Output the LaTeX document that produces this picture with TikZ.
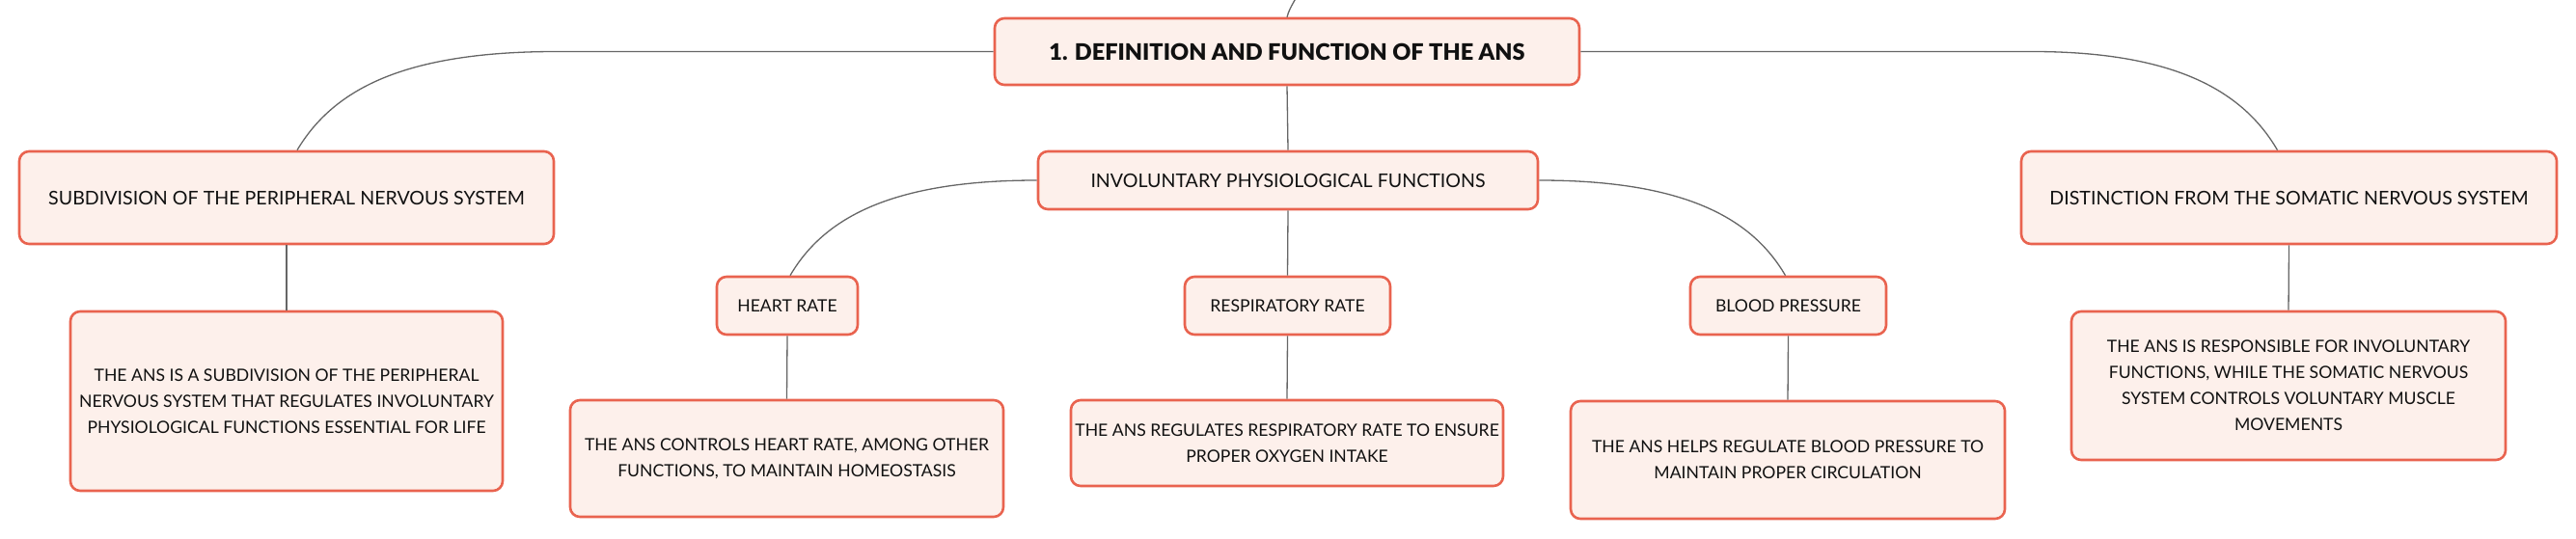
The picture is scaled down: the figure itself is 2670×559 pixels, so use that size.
\documentclass[tikz,border=0pt]{standalone}
\usepackage{fontspec}
\setmainfont{Lato}
\newfontfamily\titlefont{Lato Black}
\begin{document}
\begin{tikzpicture}[x=1pt,y=-1pt,
  box/.style={draw=boxline, fill=boxfill, line width=2.6pt, rounded corners=10pt,
    align=center, inner sep=0pt, text=txt,
    font=\fontsize{17.6}{27}\selectfont},
  lvone/.style={box, font=\fontsize{19.6}{27}\selectfont},
  conn/.style={draw=connc, line width=1.3pt}]
\definecolor{boxline}{HTML}{E9634F}
\definecolor{boxfill}{HTML}{FDF0EB}
\definecolor{connc}{HTML}{666666}
\definecolor{txt}{HTML}{111111}
\useasboundingbox (0,0) rectangle (2670,559);
\clip (0,0) rectangle (2670,559);
% nodes
\node[box, minimum width=606, minimum height=69, font=\fontsize{23.5}{30}\titlefont] (root) at (1334,53.5) {1. DEFINITION AND FUNCTION OF THE ANS};
\node[lvone, minimum width=518, minimum height=60] (inv) at (1335,187) {INVOLUNTARY PHYSIOLOGICAL FUNCTIONS};
\node[lvone, minimum width=554, minimum height=96] (sub) at (297,205) {SUBDIVISION OF THE PERIPHERAL NERVOUS SYSTEM};
\node[lvone, minimum width=555, minimum height=96] (dist) at (2372.5,205) {DISTINCTION FROM THE SOMATIC NERVOUS SYSTEM};
\node[box, minimum width=146, minimum height=60] (heart) at (816,317) {HEART RATE};
\node[box, minimum width=213, minimum height=60] (resp) at (1334.5,317) {RESPIRATORY RATE};
\node[box, minimum width=203, minimum height=60] (bp) at (1853.5,317) {BLOOD PRESSURE};
\node[box, minimum width=448, minimum height=186] (subleaf) at (297,416) {THE ANS IS A SUBDIVISION OF THE PERIPHERAL\\NERVOUS SYSTEM THAT REGULATES INVOLUNTARY\\PHYSIOLOGICAL FUNCTIONS ESSENTIAL FOR LIFE};
\node[box, minimum width=450, minimum height=154] (distleaf) at (2372,400) {THE ANS IS RESPONSIBLE FOR INVOLUNTARY\\FUNCTIONS, WHILE THE SOMATIC NERVOUS\\SYSTEM CONTROLS VOLUNTARY MUSCLE\\MOVEMENTS};
\node[box, minimum width=449, minimum height=121] (heartleaf) at (815.5,475.5) {THE ANS CONTROLS HEART RATE, AMONG OTHER\\FUNCTIONS, TO MAINTAIN HOMEOSTASIS};
\node[box, minimum width=448, minimum height=89] (respleaf) at (1334,459.5) {THE ANS REGULATES RESPIRATORY RATE TO ENSURE\\PROPER OXYGEN INTAKE};
\node[box, minimum width=450, minimum height=122] (bpleaf) at (1853,477) {THE ANS HELPS REGULATE BLOOD PRESSURE TO\\MAINTAIN PROPER CIRCULATION};
\coordinate (up) at (1347,-12);
% connectors
\draw[conn] (root.north) .. controls +(3,-12) and +(-2,10) .. (up);
\draw[conn] (root.west) -- ++(-453,0) .. controls +(-160,0) and +(37,-62) .. ([xshift=11pt]sub.north);
\draw[conn] (root.east) -- ++(468,0) .. controls +(150,0) and +(-35,-60) .. ([xshift=-12pt]dist.north);
\draw[conn] (root.south) -- (inv.north);
\draw[conn] (inv.west) .. controls +(-150,0) and +(35,-60) .. ([xshift=3pt]heart.north);
\draw[conn] (inv.east) .. controls +(150,0) and +(-35,-60) .. ([xshift=-3pt]bp.north);
\draw[conn] (inv.south) -- (resp.north);
\draw[conn] (sub.south) -- (subleaf.north);
\draw[conn] (dist.south) -- (distleaf.north);
\draw[conn] (heart.south) -- (heartleaf.north);
\draw[conn] (resp.south) -- (respleaf.north);
\draw[conn] (bp.south) -- (bpleaf.north);
\end{tikzpicture}
\end{document}
